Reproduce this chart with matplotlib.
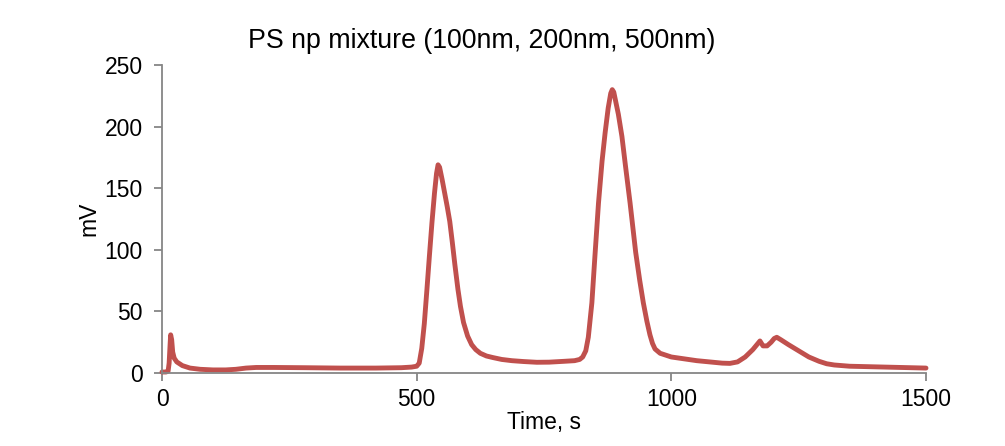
import matplotlib
matplotlib.use("Agg")
import matplotlib.pyplot as plt

plt.rcParams['font.family'] = ['Liberation Sans', 'DejaVu Sans']

title = "PS np mixture (100nm, 200nm, 500nm)"
x_label = "Time, s"
y_label = "mV"
x_ticks = [0, 500, 1000, 1500]
y_ticks = [0, 50, 100, 150, 200, 250]

time_s = [0, 8, 12, 14, 16, 17, 19, 21, 24, 29, 40, 55, 75, 100, 125, 145, 165, 185, 220,
          280, 350, 420, 470, 490, 500, 505, 510, 515, 520, 525, 530, 535, 539, 542, 545, 550,
          555, 560, 565, 570, 575, 581, 586, 592, 600, 608, 616, 625, 637, 650, 667, 687, 710,
          736, 760, 790, 810, 820, 826, 832, 837, 844, 850, 857, 864, 870, 876, 881, 884, 887,
          891, 896, 903, 910, 919, 930, 938, 945, 952, 958, 963, 968, 978, 1000, 1050, 1100,
          1115, 1130, 1145, 1160, 1170, 1174, 1180, 1188, 1196, 1202, 1207, 1215, 1230, 1250,
          1270, 1290, 1305, 1320, 1350, 1400, 1450, 1500]
signal_mv = [0.8, 0.8, 1.5, 8, 24, 31, 27, 17, 12, 9, 6, 4, 3, 2.5, 2.5, 3, 4, 4.5, 4.5,
             4.3, 4, 4, 4.3, 4.8, 5.5, 8, 20, 40, 67, 95, 122, 146, 162, 169, 167, 157,
             146, 135, 123, 106, 88, 68, 54, 41, 30, 23, 19, 16, 13.8, 12.5, 11, 10, 9.3,
             8.7, 8.8, 9.5, 10, 11, 13, 18, 29, 57, 95, 138, 172, 195, 215, 227, 230, 228,
             220, 210, 192, 168, 138, 98, 75, 57, 42, 31, 24, 19.5, 16, 13, 10, 8,
             7.8, 9, 13, 19, 24, 26, 22, 22, 25, 28, 29, 27, 23, 18,
             13, 9.5, 7.5, 6.5, 5.5, 5, 4.5, 4]

W, H = 1005, 446
fig = plt.figure(figsize=(W / 100, H / 100), dpi=100)
ax = fig.add_axes([162 / W, 1 - 373 / H, (926 - 162) / W, (373 - 65) / H])

ax.plot(time_s, signal_mv, color='#C0504D', lw=3.5, solid_joinstyle='round',
        solid_capstyle='round', clip_on=False)

ax.set_xlim(0, 1500)
ax.set_ylim(0, 250)
ax.set_xticks(x_ticks)
ax.set_yticks(y_ticks)
for s in ['top', 'right']:
    ax.spines[s].set_visible(False)
for s in ['left', 'bottom']:
    ax.spines[s].set_color('#868686')
    ax.spines[s].set_linewidth(1.3)
ax.tick_params(axis='both', direction='out', length=6, width=1.3, color='#868686',
               labelsize=16.5, labelcolor='black')
ax.tick_params(axis='y', pad=8)
ax.tick_params(axis='x', pad=5)

ax.set_xlabel(x_label, fontsize=16.5, labelpad=0)
ax.set_ylabel(y_label, fontsize=16.5, labelpad=3)
fig.text(482 / W, 1 - 41 / H, title, ha='center', va='center', fontsize=19.3)

fig.savefig('out.png', dpi=100)
